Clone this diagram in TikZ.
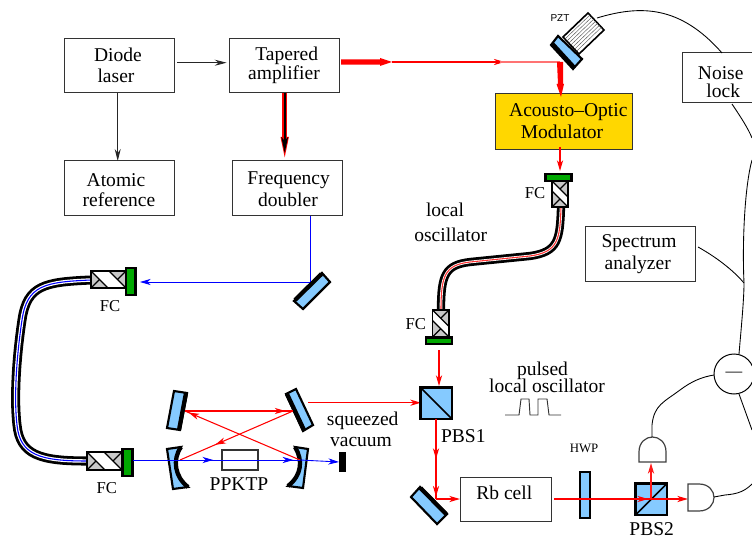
\documentclass[tikz,border=0pt]{standalone}
\usepackage{fontspec}
\setmainfont{Liberation Serif}
\newfontfamily\pztfont{Liberation Sans}
\usetikzlibrary{arrows.meta,decorations.markings,calc}
\definecolor{mirrorblue}{HTML}{85CAFF}
\definecolor{fcgreen}{HTML}{00A800}
\definecolor{fcgray}{HTML}{C8C8C8}
\definecolor{aomgold}{HTML}{FFD700}
\tikzset{
  x=0.75pt,y=-0.75pt,
  txt/.style={font=\fontsize{14.65pt}{16pt}\selectfont,inner sep=0pt,anchor=base},
  fctxt/.style={font=\fontsize{12.5pt}{14pt}\selectfont,inner sep=0pt,anchor=base},
  boxn/.style={draw=black!80,line width=0.75pt,fill=white,inner sep=0pt,font=\fontsize{14.65pt}{16pt}\selectfont},
  redb/.style={draw=red,line width=0.9pt},
  blueb/.style={draw=blue,line width=0.65pt},
  wire/.style={draw=black,line width=0.65pt},
  blk/.style={draw=black!85,line width=0.75pt,-{Stealth[length=9pt,width=4.5pt,inset=3pt]}},
  tip/.style={-{Stealth[length=8pt,width=4.6pt,inset=2.4pt]}},
  amark/.style={postaction={decorate,decoration={markings,mark=at position #1 with {\arrow{Stealth[length=8pt,width=4.6pt,inset=2.4pt]}}}}},
  mirrorface/.style={fill=mirrorblue,draw=black,line width=1.6pt,line join=miter},
  mirrorback/.style={draw=black,line width=3.2pt,line cap=butt},
  greenbar/.style={fill=fcgreen,draw=black,line width=1.6pt},
  cube/.style={fill=mirrorblue,draw=black,line width=2pt},
  detect/.style={fill=white,draw=black!75,line width=0.9pt},
}
% text line placed at dx,dy pixels from the node centre (dy upwards to the baseline)
\newcommand{\oneL}[3]{\makebox[0pt][c]{\hspace*{\dimexpr #1pt*3/2\relax}\raisebox{\dimexpr #2pt*3/4-0.75pt\relax}{#3}}}
\newcommand{\placed}[1]{\raisebox{0pt}[0pt][0pt]{#1}}
% horizontal fibre coupler: #1 #2 = top-left, #3 = length, #4 = height
\newcommand{\fchor}[4]{%
  \begin{scope}[shift={(#1,#2)}]
    \filldraw[fill=white,draw=black,line width=1pt] (0,0) rectangle (#3,#4);
    \fill[fcgray] (0,0) -- (0,#4) -- (#4,#4) -- cycle;
    \fill[fcgray] (#3,#4) -- (#3,0) -- ({#3-#4},0) -- cycle;
    \draw[black,line width=0.9pt] (0,0) -- (#4,#4) ({#3-#4},0) -- (#3,#4);
    \draw[black,line width=0.9pt] (0,#4) -- ({#4/2},{#4/2}) (#3,0) -- ({#3-#4/2},{#4/2});
    \draw[black,line width=1pt] (0,0) rectangle (#3,#4);
  \end{scope}}
% vertical fibre coupler: #1 #2 = top-left, #3 = length (down), #4 = width
\newcommand{\fcver}[4]{%
  \begin{scope}[shift={(#1,#2)}]
    \filldraw[fill=white,draw=black,line width=1pt] (0,0) rectangle (#4,#3);
    \fill[fcgray] (0,0) -- (#4,0) -- (#4,#4) -- cycle;
    \fill[fcgray] (#4,#3) -- (0,#3) -- (0,{#3-#4}) -- cycle;
    \draw[black,line width=0.9pt] (0,0) -- (#4,#4) (0,{#3-#4}) -- (#4,#3);
    \draw[black,line width=0.9pt] (#4,0) -- ({#4/2},{#4/2}) (0,#3) -- ({#4/2},{#3-#4/2});
    \draw[black,line width=1pt] (0,0) rectangle (#4,#3);
  \end{scope}}
\begin{document}
\begin{tikzpicture}
\useasboundingbox (0,0) rectangle (752,538);
\clip (0,0) rectangle (752,538);

% Boxes
\node[boxn,minimum width=82.5pt,minimum height=41pt] (diode) at (119.7,65.5) {\placed{\oneL{-1.7}{4.8}{Diode}\oneL{-3.7}{-16.2}{laser}}};
\node[boxn,minimum width=82.5pt,minimum height=41pt] (taper) at (284.3,65.5) {\placed{\oneL{2.4}{5.5}{Tapered}\oneL{-0.3}{-12.8}{amplifier}}};
\node[boxn,minimum width=82.5pt,minimum height=41pt] (atomic) at (119.7,188) {\placed{\oneL{-3.7}{2}{Atomic}\oneL{-0.7}{-17}{reference}}};
\node[boxn,minimum width=82.5pt,minimum height=41pt] (freq) at (287.7,188) {\placed{\oneL{1}{4.7}{Frequency}\oneL{0.3}{-17}{doubler}}};
\node[boxn,fill=aomgold,minimum width=102.75pt,minimum height=42pt] (aom) at (563.5,122) {\placed{\oneL{4.8}{6}{Acousto--Optic}\oneL{-1.5}{-16}{Modulator}}};
\node[boxn,minimum width=75pt,minimum height=37.5pt] (noise) at (732,78) {\placed{\oneL{-11.3}{-1}{Noise}\oneL{-8.7}{-19}{lock}}};
\node[boxn,minimum width=82.5pt,minimum height=41.25pt] (spec) at (640,253.5) {\placed{\oneL{-1}{6.8}{Spectrum}\oneL{-2.3}{-14.5}{analyzer}}};
\node[boxn,minimum width=68.25pt,minimum height=33pt] (rb) at (505.5,499) {\placed{\oneL{-1.2}{0.7}{Rb cell}}};
\node[draw=black!80,line width=0.8pt,minimum width=27pt,minimum height=15pt,inner sep=0pt] (ppktp) at (240,460) {};

% Text labels
\node[txt] (l1) at (445,216) {local};
\node[txt] (l2) at (450.7,241) {oscillator};
\node[txt] (l3) at (362.7,425) {squeezed};
\node[txt] (l4) at (361,446) {vacuum};
\node[txt] (l5) at (239,490) {PPKTP};
\node[txt] (l6) at (463.3,442.7) {PBS1};
\node[txt] (l7) at (651.7,535) {PBS2};
\node[txt] (l8) at (542.5,375) {pulsed};
\node[txt] (l9) at (547,392.7) {local oscillator};
\node[txt,font=\fontsize{9.6pt}{10pt}\selectfont] (l10) at (584,452.7) {HWP};
\node[txt,font=\fontsize{7.5pt}{8pt}\pztfont] (l11) at (560,21.7) {PZT};
\node[fctxt] (f1) at (110,311.7) {FC};
\node[fctxt] (f2) at (106.7,493) {FC};
\node[fctxt] (f3) at (535,199) {FC};
\node[fctxt] (f4) at (415.7,329) {FC};

% Beam coordinates
\coordinate (tr) at (341,62);
\coordinate (trb) at (392,62);
\coordinate (pzm) at (560,62);
\coordinate (fc1a) at (560,147);
\coordinate (fc1b) at (560,171);
\coordinate (bm) at (310,282);
\coordinate (bfc) at (140,282);
\coordinate (fc4o) at (439,350);
\coordinate (pbs1t) at (439,386);
\coordinate (pbs1l) at (421,402.7);
\coordinate (pbs1b) at (436,419);
\coordinate (cavout) at (308,402.7);
\coordinate (m3) at (436,499);
\coordinate (rbl) at (460,499);
\coordinate (rbr) at (554,499);
\coordinate (pbs2c) at (651,499);
\coordinate (dr) at (688,499);
\coordinate (dt) at (651,463);
\coordinate (c1) at (185,411);
\coordinate (c2) at (293,411);
\coordinate (c3) at (180,460);
\coordinate (c4) at (300,460);
\coordinate (fcbo) at (133,460);
\coordinate (dump) at (339,462);

% Fibres
\coordinate (fa1) at (561,207);
\coordinate (fa2) at (441,310);
\coordinate (fb1) at (91,280);
\coordinate (fb2) at (87,461);
\def\fibreA{(fa1) .. controls (560,240) and (558,252) .. (530,256) -- (470,262) .. controls (445,265) and (441,275) .. (fa2)}
\def\fibreB{(fb1) .. controls (45,282) and (27,285) .. (22,320) .. controls (16,360) and (14,400) .. (17,425) .. controls (20,455) and (40,461) .. (fb2)}
\draw[black,line width=6.2pt] \fibreA;
\draw[white,line width=2pt] \fibreA;
\draw[red!80,line width=0.8pt] \fibreA;
\draw[black,line width=6.8pt] \fibreB;
\draw[white,line width=2.6pt] \fibreB;
\draw[blue,line width=0.8pt] \fibreB;

% Fibre couplers
\fchor{91}{271}{35}{17}
\filldraw[greenbar] (126,268) rectangle (135.5,295);
\fchor{87}{452}{35}{18}
\filldraw[greenbar] (122.5,449) rectangle (132.5,476);
\fcver{552}{181}{26}{16}
\filldraw[greenbar] (545.5,174) rectangle (571.5,181);
\fcver{432.5}{310}{27}{16.5}
\filldraw[greenbar] (426,337.5) rectangle (452,344);

% Mirrors
\filldraw[mirrorface] (322,273) -- (330,282) -- (303,309) -- (294,301) -- cycle;
\draw[mirrorback] (295,300) -- (321.5,274);
\filldraw[mirrorface] (420,487) -- (411,497) -- (437,524) -- (447,514) -- cycle;
\draw[mirrorback] (420.5,488) -- (446,514);
\filldraw[mirrorface] (174,391) -- (187,393) -- (180,430) -- (167,428) -- cycle;
\draw[mirrorback] (186,393) -- (179,430);
\filldraw[mirrorface] (296,389) -- (286,394) -- (303,431) -- (313,425) -- cycle;
\draw[mirrorback] (287,394) -- (304,430);
\filldraw[mirrorface] (167,449) -- (181,447) .. controls (172,460) and (175,477) .. (188,487) -- (173,489) -- cycle;
\draw[mirrorback] (181,447) .. controls (172,460) and (175,477) .. (188,487);
\filldraw[mirrorface] (295,447) -- (308,449) -- (303,488) -- (288,486) .. controls (302,475) and (303,460) .. (295,447) -- cycle;
\draw[mirrorback] (295,447) .. controls (303,460) and (302,475) .. (288,486);

% PZT mirror
\filldraw[fill=white,draw=black,line width=1.2pt] (588,13) -- (604,30) -- (579,54) -- (563,37) -- cycle;
\foreach \t in {0.12,0.24,0.36,0.48,0.60,0.72,0.84}{
  \draw[black!70,line width=0.3pt] ($(563,37)!\t!(579,54)$) -- ($(588,13)!\t!(604,30)$);
}
\filldraw[mirrorface] (551,45) -- (558,36) -- (582,59) -- (573,69) -- cycle;
\draw[mirrorback] (552.5,44) -- (574.5,68);

% Beams
\fill[red] (tr) ++(0,-2.6) -- (380,59.4) -- (380,58) -- (trb) -- (380,66) -- (380,64.6) -- (341,64.6) -- cycle;
\draw[redb,amark=0.67] (trb) -- (pzm);
\draw[red!55,line width=0.9pt] (500,62) -- (pzm);
\fill[red] (557,62) -- (563,62) -- (563,84) -- (564,84) -- (561,97) -- (556.5,84) -- (558,84) -- cycle;
\draw[red,line width=4pt] (284.7,93) -- (284.7,140);
\fill[red] (280.5,137) -- (288.9,137) -- (284.7,157.3) -- cycle;
\draw[black,line width=1.3pt,-{Stealth[length=12pt,width=5pt,inset=3pt]}] (taper.south -| 284.7,0) -- (284.7,153);
\draw[redb,tip] (fc1a) -- (fc1b);
\draw[blueb] (freq.south -| bm) -- (bm);
\draw[blueb,tip] (bm) -- (bfc);
\draw[redb,tip] (fc4o) -- (pbs1t);
\draw[redb,tip] (cavout) -- (pbs1l);

% Cubes
\filldraw[cube] (420.5,387.5) rectangle (452,419);
\draw[black,line width=1.2pt] (420.5,387.5) -- (452,419);
\filldraw[cube] (635.5,483.5) rectangle (667,515);
\draw[black,line width=1.2pt] (635.5,515) -- (667,483.5);
% HWP
\filldraw[cube,line width=1.5pt] (580,471.5) rectangle (590,518);

% Beams after cubes
\draw[redb,amark=0.5,amark=0.97] (pbs1b) -- (m3);
\draw[redb,tip] (m3) -- (rbl);
\draw[redb,amark=0.97] (rbr) -- (pbs2c);
\draw[redb,tip] (pbs2c) -- (dr);
\draw[draw=red!90,line width=1.3pt,tip] (pbs2c) -- (dt);

% Cavity beams
\draw[redb,amark=0.93,line width=0.8pt] (c1) -- (c2);
\draw[redb,amark=0.69,line width=0.8pt] (c2) -- (c3);
\draw[redb,amark=0.97,line width=0.8pt] (c4) -- (c1);
\draw[blueb,amark=0.48,amark=0.96] (fcbo) -- (c4);
\draw[blueb,tip] (c4) -- (dump);
\fill[black] (339,452) rectangle (346,472);

% Black arrows
\coordinate (dlo) at (177.3,62.7);
\draw[blk] (dlo) -- (226.7,62.7);
\draw[blk] (diode.south -| 117.7,0) -- (117.7,161);

% Pulse
\draw[draw=black!80,line width=0.7pt] (505,415) -- (519,415) -- (521,399) -- (529,399) -- (530,415) -- (538,415) -- (538,399) -- (547,399) -- (549,415) -- (561,415);

% Detectors
\filldraw[detect] (639,462) -- (639,452) .. controls (639,442) and (646,437) .. (652.5,437) .. controls (659,437) and (666,442) .. (666,452) -- (666,462) -- cycle;
\filldraw[detect] (688,484) -- (699,484) .. controls (709,484) and (714,491) .. (714,497.5) .. controls (714,504) and (709,511) .. (699,511) -- (688,511) -- cycle;
\node[draw=black,line width=0.75pt,fill=white,circle,minimum size=30pt,inner sep=0pt,font=\fontsize{12.5pt}{14pt}\selectfont] (sub) at (734,374) {---};

% Wires
\coordinate (dtt) at (652,437);
\coordinate (drr) at (714,497);
\coordinate (pzw) at (597,18);
\coordinate (nlt) at (722,53);
\coordinate (nlb) at (732,104);
\coordinate (spr) at (698,247);
\coordinate (subt) at (739,354);
\coordinate (subb) at (739,394);
\coordinate (subl) at (714,375);
\draw[wire] (dtt) -- (652,425) .. controls (654,405) and (664,402) .. (680,390) .. controls (692,381) and (702,377) .. (subl);
\draw[wire] (drr) -- (725,495) .. controls (738,494) and (745,491) .. (752,484);
\draw[wire] (subb) -- (752,430);
\draw[wire] (subt) .. controls (741,330) and (744,300) .. (744,283) .. controls (742,240) and (745,185) .. (752,160);
\draw[wire] (spr) .. controls (716,257) and (733,270) .. (744,283);
\draw[wire] (nlb) .. controls (740,116) and (748,128) .. (752,138);
\draw[wire] (pzw) .. controls (640,5) and (680,5) .. (nlt);
\end{tikzpicture}
\end{document}
